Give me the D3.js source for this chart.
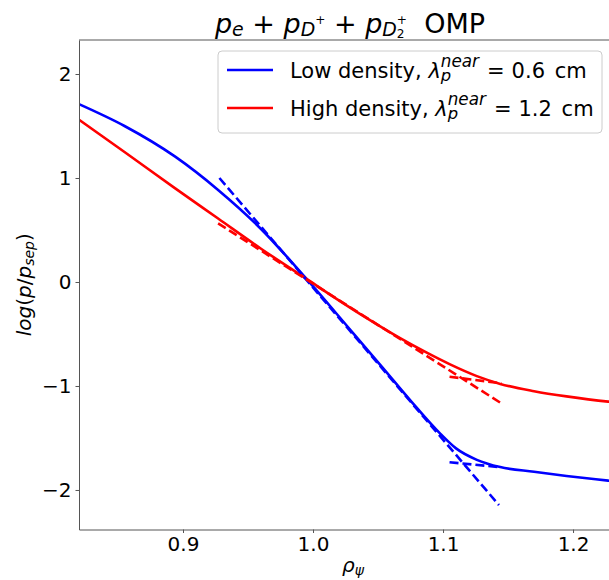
<!DOCTYPE html>
<html>
<head>
<meta charset="utf-8">
<script src="https://cdn.jsdelivr.net/npm/d3@7"></script>
<style>
  body { margin: 0; background: #fff; }
  text { font-family: "DejaVu Sans", sans-serif; white-space: pre; fill: #000; }
</style>
</head>
<body>
<script>
// solid profiles
const blueRho = [0.82, 0.855, 0.894, 0.927, 0.96, 0.995, 1.028, 1.054, 1.075, 1.098, 1.11, 1.126, 1.144, 1.17, 1.195, 1.227, 1.245];
const blueLog = [1.71, 1.50, 1.205, 0.885, 0.51, 0.03, -0.45, -0.83, -1.14, -1.46, -1.60, -1.71, -1.78, -1.825, -1.865, -1.91, -1.935];
const redRho = [0.82, 0.855, 0.894, 0.927, 0.96, 0.995, 1.016, 1.041, 1.067, 1.0875, 1.105, 1.126, 1.144, 1.17, 1.195, 1.227, 1.245];
const redLog = [1.56, 1.25, 0.90, 0.61, 0.32, 0.03, -0.145, -0.345, -0.54, -0.68, -0.79, -0.905, -0.98, -1.05, -1.10, -1.15, -1.17];

// dashed fits
const blueNearRho = [0.928, 1.143], blueNearLog = [1.0, -2.145];
const blueFarRho = [1.105, 1.144], blueFarLog = [-1.733, -1.781];
const redNearRho = [0.927, 1.144], redNearLog = [0.564, -1.16];
const redFarRho = [1.105, 1.145], redFarLog = [-0.911, -0.974];

const xTicks = [0.9, 1.0, 1.1, 1.2];
const yTicks = [-2, -1, 0, 1, 2];

const width = 609, height = 580;
const padLeft = 79, padRight = 627, padTop = 40, padBottom = 529.5;

const svg = d3.select("body").append("svg")
    .attr("width", width)
    .attr("height", height);

const x = d3.scaleLinear().domain([0.82, 1.2415]).range([padLeft, padRight]);
const y = d3.scaleLinear().domain([-2.38, 2.327]).range([padBottom, padTop]);

// write matplotlib-style mathtext with tspans
function mathText(t, parts, base) {
    let shift = 0, prevLen = 0, pending = 0;
    parts.forEach(p => {
        const up = (p.sh || 0) * base;
        let dx = pending + (p.dx || 0);
        if (p.back) dx -= prevLen;
        pending = 0;
        const ts = t.append("tspan")
            .text(p.t)
            .attr("font-size", base * (p.sc || 1))
            .attr("font-style", p.it ? "italic" : "normal")
            .attr("dy", shift - up);
        if (dx) ts.attr("dx", dx);
        shift = up;
        const len = ts.node().getComputedTextLength();
        if (p.back && len < prevLen) pending = prevLen - len;
        prevLen = len;
    });
}

svg.append("defs").append("clipPath").attr("id", "plot")
    .append("rect").attr("x", padLeft).attr("y", padTop)
    .attr("width", padRight - padLeft).attr("height", padBottom - padTop);

const line = d3.line()
    .x(d => x(d[0]))
    .y(d => y(d[1]))
    .curve(d3.curveMonotoneX);

const plot = svg.append("g").attr("clip-path", "url(#plot)");

const series = [
    { rho: blueRho, val: blueLog, color: "#0000ff", dash: null },
    { rho: redRho, val: redLog, color: "#ff0000", dash: null },
    { rho: blueNearRho, val: blueNearLog, color: "#0000ff", dash: "9,4" },
    { rho: blueFarRho, val: blueFarLog, color: "#0000ff", dash: "9,4" },
    { rho: redNearRho, val: redNearLog, color: "#ff0000", dash: "9,4" },
    { rho: redFarRho, val: redFarLog, color: "#ff0000", dash: "9,4" }
];

series.forEach(s => {
    plot.append("path")
        .datum(d3.zip(s.rho, s.val))
        .attr("d", line)
        .attr("fill", "none")
        .attr("stroke", s.color)
        .attr("stroke-width", 2.6)
        .attr("stroke-dasharray", s.dash);
});

// axes
const xAxis = svg.append("g")
    .attr("transform", `translate(0,${padBottom})`)
    .call(d3.axisBottom(x).tickValues(xTicks).tickFormat(d3.format(".1f")).tickSizeInner(3.5).tickSizeOuter(0).tickPadding(4));
const yAxis = svg.append("g")
    .attr("transform", `translate(${padLeft},0)`)
    .call(d3.axisLeft(y).tickValues(yTicks).tickFormat(d => d < 0 ? "\u2212" + Math.abs(d) : d).tickSizeInner(3.5).tickSizeOuter(0).tickPadding(4));

[xAxis, yAxis].forEach(a => {
    a.select(".domain").attr("stroke", "#555").attr("stroke-width", 1);
    a.selectAll(".tick line").attr("stroke", "#555").attr("stroke-width", 1);
    a.selectAll(".tick text").attr("font-size", 20).attr("font-family", "DejaVu Sans").attr("fill", "#000");
});

svg.append("line")
    .attr("x1", padLeft).attr("x2", width)
    .attr("y1", padTop).attr("y2", padTop)
    .attr("stroke", "#555").attr("stroke-width", 1);

// title
const title = svg.append("text")
    .attr("x", (padLeft + padRight) / 2 - 3)
    .attr("y", 32.5)
    .attr("text-anchor", "middle");
mathText(title, [
    { t: "p", it: true },
    { t: "e", it: true, sc: 0.7, sh: -0.12 },
    { t: " + " },
    { t: "p", it: true },
    { t: "D", it: true, sc: 0.7, sh: -0.12 },
    { t: "+", sc: 0.45, sh: 0.3 },
    { t: " + " },
    { t: "p", it: true },
    { t: "D", it: true, sc: 0.7, sh: -0.12 },
    { t: "2", sc: 0.45, sh: -0.22 },
    { t: "+", sc: 0.45, sh: 0.3, back: true },
    { t: "  OMP" }
], 27);

// axis labels
const xLabel = svg.append("text")
    .attr("x", (padLeft + padRight) / 2)
    .attr("y", 572)
    .attr("text-anchor", "middle");
mathText(xLabel, [
    { t: "\u03c1", it: true },
    { t: "\u03c8", it: true, sc: 0.7, sh: -0.15 }
], 20);

const yLabel = svg.append("text")
    .attr("transform", `translate(31,${(padTop + padBottom) / 2}) rotate(-90)`)
    .attr("text-anchor", "middle");
mathText(yLabel, [
    { t: "log", it: true },
    { t: "(" },
    { t: "p", it: true },
    { t: "/" },
    { t: "p", it: true },
    { t: "sep", it: true, sc: 0.7, sh: -0.15 },
    { t: ")" }
], 20);

// legend
const legend = svg.append("g");
legend.append("rect")
    .attr("x", 218).attr("y", 51)
    .attr("width", 384).attr("height", 82)
    .attr("rx", 4)
    .attr("fill", "#fff").attr("fill-opacity", 0.8)
    .attr("stroke", "#ccc").attr("stroke-width", 1);

const legendRows = [
    { color: "#0000ff", label: "Low density, ", value: "0.6" },
    { color: "#ff0000", label: "High density, ", value: "1.2" }
];
legendRows.forEach((r, i) => {
    const ly = 70 + i * 38;
    legend.append("line")
        .attr("x1", 227).attr("x2", 273)
        .attr("y1", ly).attr("y2", ly)
        .attr("stroke", r.color).attr("stroke-width", 2.6);
    const t = legend.append("text").attr("x", 290).attr("y", ly + 7.5);
    mathText(t, [
        { t: r.label },
        { t: "\u03bb", it: true },
        { t: "p", it: true, sc: 0.78, sh: -0.17 },
        { t: "near", it: true, sc: 0.8, sh: 0.5, back: true },
        { t: "=", dx: 8 },
        { t: r.value, dx: 7 },
        { t: " cm", dx: 3 }
    ], 21);
});
</script>
</body>
</html>
